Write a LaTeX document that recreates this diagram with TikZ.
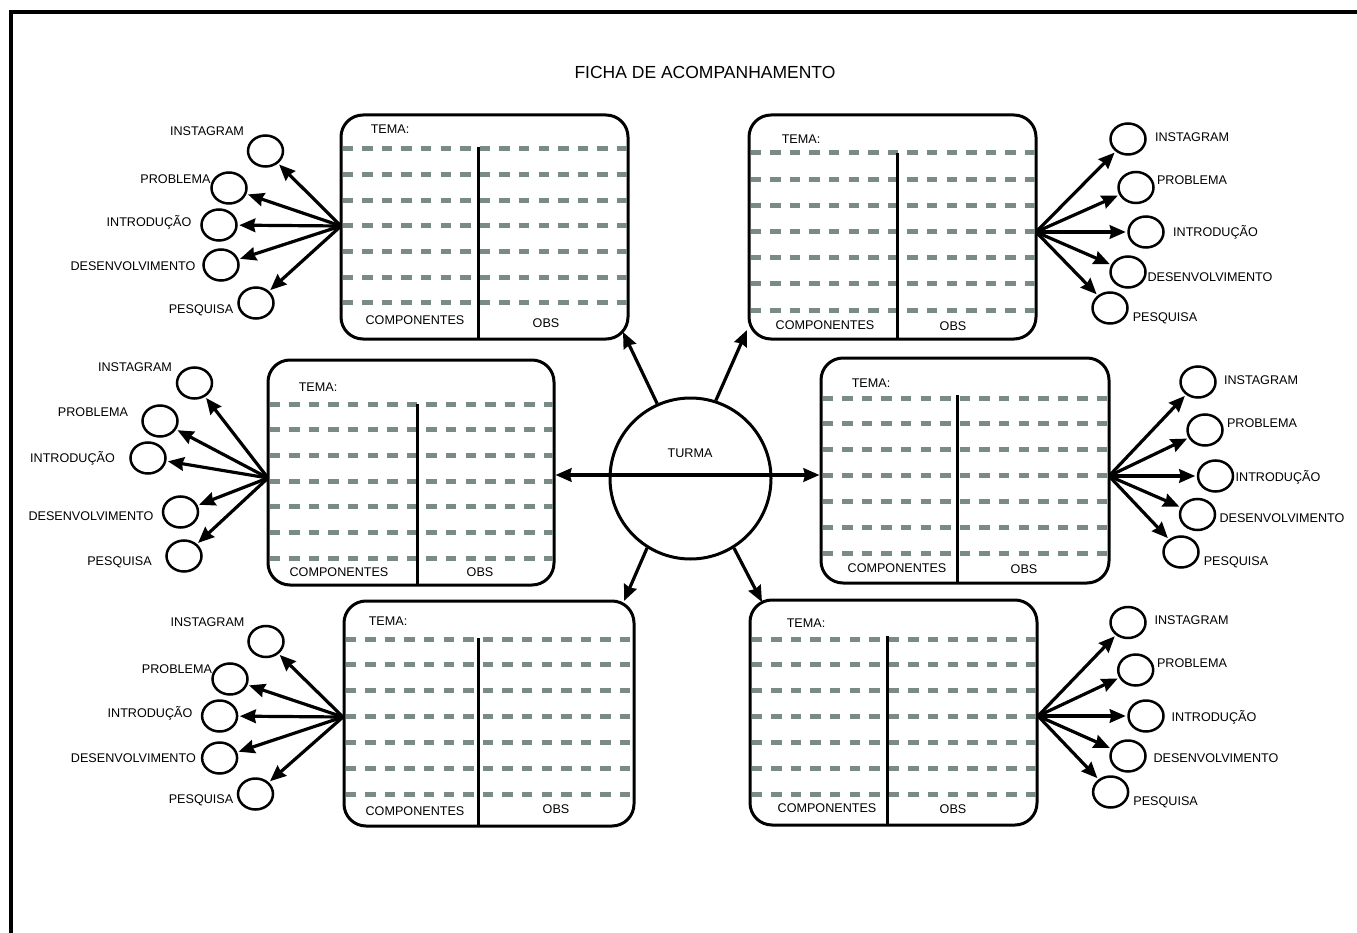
\documentclass[tikz,border=0pt]{standalone}
\usepackage{fontspec}
\setmainfont{Liberation Sans}
\usetikzlibrary{arrows.meta,shapes.geometric}
\definecolor{dashgray}{RGB}{122,138,134}
\tikzset{
  fbox/.style={draw, line width=3pt, rounded corners=22pt, inner sep=0pt},
  dashln/.style={draw=dashgray, line width=5pt, dash pattern=on 10.5pt off 9.1pt},
  divln/.style={draw, line width=3pt},
  sat/.style={draw, ellipse, line width=2.5pt, minimum width=35pt, minimum height=31pt, inner sep=0pt},
  lbl/.style={font=\fontsize{12.6}{14}\selectfont, inner sep=0pt, text height=9pt, text depth=0pt},
  ttl/.style={font=\fontsize{17.5}{20}\selectfont, inner sep=0pt, text height=12.5pt, text depth=0pt},
  arr/.style={draw, line width=3.2pt, -{Stealth[length=16pt,width=13.5pt,inset=1.5pt]}},
  arrb/.style={draw, line width=3.2pt, {Stealth[length=16pt,width=13.5pt,inset=1.5pt]}-{Stealth[length=16pt,width=13.5pt,inset=1.5pt]}},
  turmacirc/.style={draw, circle, line width=3pt, minimum size=161pt, inner sep=0pt}
}
% name, left, top, right, bottom, divider x, divider top, first dash y, last dash y
\newcommand\fichabox[9]{%
  \node[fbox, minimum width={#4-#2}, minimum height={#5-#3}] (#1) at ({(#2+#4)/2},{(#3+#5)/2}) {};
  \foreach \k in {0,...,6}{\draw[dashln] ({#2+1.5},{#8+\k*(#9-#8)/6}) -- ({#4-1.5},{#8+\k*(#9-#8)/6});}
  \draw[divln] (#6,#7) -- (#6,#5);
}
% name, circle x, circle y, label x, label y, text, hub
\newcommand\satl[7]{%
  \node[sat] (#1) at (#2,#3) {};
  \node[lbl] (#1-t) at (#4,#5) {#6};
  \draw[arr, shorten >=1.5pt] (#7) -- (#1);
}
% box name, tema x,y, comp x,y, obs x,y
\newcommand\boxtexts[7]{%
  \node[lbl] (#1-tema) at (#2,#3) {TEMA:};
  \node[lbl] (#1-comp) at (#4,#5) {COMPONENTES};
  \node[lbl] (#1-obs) at (#6,#7) {OBS};
}
\begin{document}
\begin{tikzpicture}[x=1pt,y=-1pt]
\useasboundingbox (0,0) rectangle (1357,933);
\fill[white] (0,0) rectangle (1357,933);
% frame
\draw[line width=3.5pt] (11,950) -- (11,12) -- (1375,12);
% title
\node[ttl] (title) at (705,72) {FICHA DE ACOMPANHAMENTO};

% boxes
\fichabox{tl}{341}{115}{628}{339}{478}{147}{149}{303}
\fichabox{tr}{749}{115}{1036}{339}{897}{153}{153}{310}
\fichabox{ml}{268}{360}{554}{585}{417}{404}{404}{558}
\fichabox{mr}{821}{358}{1109}{583}{957}{395}{398}{553}
\fichabox{bl}{344}{601}{634}{826}{478}{638}{639}{794}
\fichabox{br}{750}{600}{1037}{825}{887}{636}{639}{794}

\boxtexts{tl}{390}{129}{415}{320}{546}{323}
\boxtexts{tr}{801}{139}{825}{325}{953}{326}
\boxtexts{ml}{318}{387}{339}{572}{480}{572}
\boxtexts{mr}{871}{383}{897}{568}{1024}{569}
\boxtexts{bl}{388}{621}{415}{811}{556}{809}
\boxtexts{br}{806}{623}{827}{808}{953}{809}

% central circle
\node[turmacirc] (turma) at (690.5,478.5) {};
\node[lbl] (turma-t) at (690,453) {TURMA};
\coordinate (hl) at (690,475);
\draw[arrb] (ml.east |- hl) -- (mr.west |- hl);
\coordinate (tl-in) at (623,332);
\coordinate (tr-in) at (747,330);
\coordinate (bl-in) at (624,601);
\coordinate (br-in) at (762,602);
\draw[arr] (turma.114.4) -- (tl-in);
\draw[arr] (turma.72.7) -- (tr-in);
\draw[arr] (turma.238.7) -- (bl-in);
\draw[arr] (turma.302.5) -- (br-in);

% hubs
\coordinate (tl-h) at (341,226);
\coordinate (tr-h) at (1036,232);
\coordinate (ml-h) at (268,478);
\coordinate (mr-h) at (1109,476);
\coordinate (bl-h) at (343,717);
\coordinate (br-h) at (1038,716);

% TL satellites
\satl{tl1}{265.5}{151}{207}{131}{INSTAGRAM}{tl-h}
\satl{tl2}{229}{188}{175.5}{179}{PROBLEMA}{tl-h}
\satl{tl3}{219}{225}{149}{222}{INTRODUÇÃO}{tl-h}
\satl{tl4}{221}{265}{133}{266}{DESENVOLVIMENTO}{tl-h}
\satl{tl5}{256}{303}{201}{309}{PESQUISA}{tl-h}
% TR satellites
\satl{tr1}{1128}{139}{1192}{137}{INSTAGRAM}{tr-h}
\satl{tr2}{1136}{187.5}{1192}{180}{PROBLEMA}{tr-h}
\satl{tr3}{1146}{232}{1215.5}{232}{INTRODUÇÃO}{tr-h}
\satl{tr4}{1128}{272}{1210}{277}{DESENVOLVIMENTO}{tr-h}
\satl{tr5}{1110}{308}{1165}{317}{PESQUISA}{tr-h}
% ML satellites
\satl{ml1}{194.5}{383}{135}{367}{INSTAGRAM}{ml-h}
\satl{ml2}{160}{421}{93}{412}{PROBLEMA}{ml-h}
\satl{ml3}{148}{458}{72.5}{458}{INTRODUÇÃO}{ml-h}
\satl{ml4}{180.5}{512}{91}{516}{DESENVOLVIMENTO}{ml-h}
\satl{ml5}{184}{556}{119.5}{561}{PESQUISA}{ml-h}
% MR satellites
\satl{mr1}{1198}{382}{1261}{380}{INSTAGRAM}{mr-h}
\satl{mr2}{1205}{430}{1262}{423}{PROBLEMA}{mr-h}
\satl{mr3}{1215.5}{476}{1278}{477}{INTRODUÇÃO}{mr-h}
\satl{mr4}{1197.5}{514.5}{1282}{518}{DESENVOLVIMENTO}{mr-h}
\satl{mr5}{1181}{552}{1236}{561}{PESQUISA}{mr-h}
% BL satellites
\satl{bl1}{266}{641.5}{207.5}{622}{INSTAGRAM}{bl-h}
\satl{bl2}{230}{679}{177}{669}{PROBLEMA}{bl-h}
\satl{bl3}{219.6}{716}{150}{713}{INTRODUÇÃO}{bl-h}
\satl{bl4}{219.6}{758}{133.4}{758}{DESENVOLVIMENTO}{bl-h}
\satl{bl5}{255.5}{794}{201}{799}{PESQUISA}{bl-h}
% BR satellites
\satl{br1}{1128}{622.5}{1191.5}{620}{INSTAGRAM}{br-h}
\satl{br2}{1135.7}{670}{1192}{663}{PROBLEMA}{br-h}
\satl{br3}{1146}{716}{1214}{717}{INTRODUÇÃO}{br-h}
\satl{br4}{1128}{756}{1216}{758}{DESENVOLVIMENTO}{br-h}
\satl{br5}{1110.6}{792}{1165.6}{801}{PESQUISA}{br-h}
\end{tikzpicture}
\end{document}
